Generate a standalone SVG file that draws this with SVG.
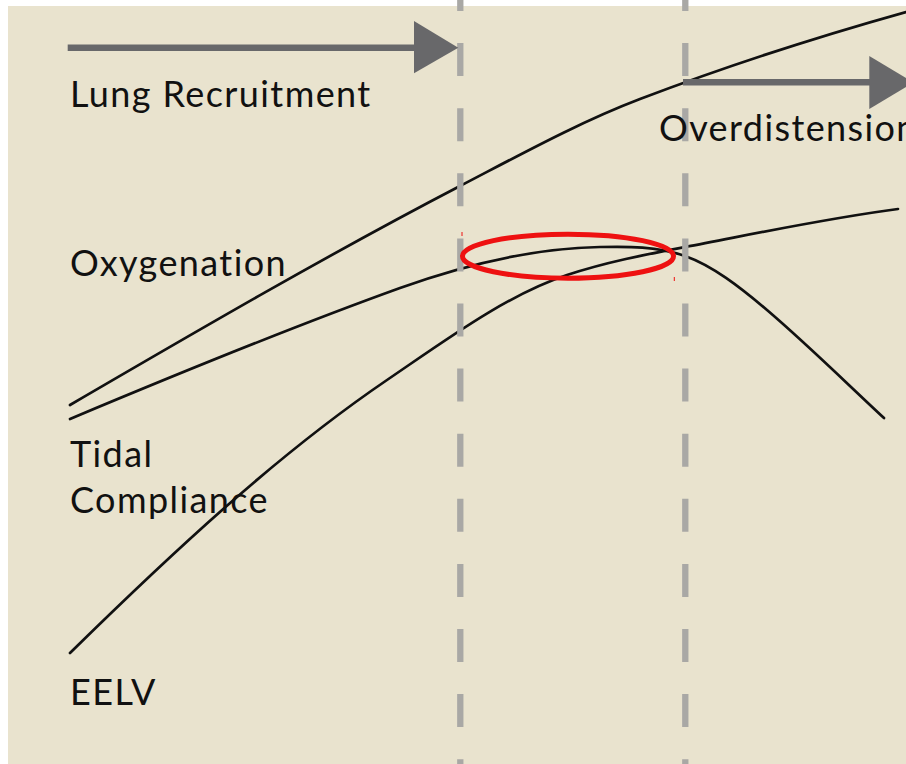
<svg xmlns="http://www.w3.org/2000/svg" width="906" height="764" viewBox="0 0 906 764">
  <style>
    .lbl { font-family: Lato, "Open Sans", "Liberation Sans", sans-serif; font-size: 36px; letter-spacing: 1.4px; fill: #111111; }
    .curve { fill: none; stroke: #111111; stroke-width: 2.7; stroke-linecap: round; }
    .dash { stroke: #A9A8A5; stroke-width: 6.3; stroke-dasharray: 33 32.1; }
    .shaft { stroke: #68686A; stroke-width: 6.5; }
    .head { fill: #68686A; }
  </style>
  <rect x="0" y="0" width="906" height="764" fill="#FFFFFF"/>
  <rect id="background" x="8" y="6" width="898" height="758" fill="#E9E3CE"/>

  <g id="curves">
    <path id="curve-top" class="curve" d="M70,405 C200,329.2 330,253.6 460,186 C520,154.8 580,121.8 640,99 C728.7,65.3 817.3,36.8 906,12"/>
    <path id="curve-peak" class="curve" d="M70,419 C180,372.8 290,327.6 400,288 C466.7,264 533.3,248.3 600,247 C628.3,246.4 656.7,246.1 685,256 C712.3,265.6 739.7,286.8 767,310 C806,343.2 845,381.7 884,418"/>
    <path id="curve-eelv" class="curve" d="M70,653 C180,545 281.3,451.9 387,380 C447,339.2 507,294.8 567,275 C606.3,262 645.7,254.5 685,247 C756,233.5 827,218.2 898,209"/>
  </g>

  <g id="dividers">
    <line id="divider-left" class="dash" x1="460.3" y1="-22" x2="460.3" y2="764"/>
    <line id="divider-right" class="dash" x1="685.3" y1="-22" x2="685.3" y2="764"/>
  </g>

  <g id="highlight">
    <ellipse cx="568" cy="256.2" rx="105.5" ry="22" fill="none" stroke="#EE1111" stroke-width="5"/>
    <line x1="462" y1="232" x2="462" y2="236" stroke="#EE1111" stroke-width="1"/>
    <line x1="674.3" y1="277" x2="674.3" y2="281" stroke="#EE1111" stroke-width="1"/>
  </g>

  <g id="arrow-recruitment">
    <line class="shaft" x1="67.7" y1="47.7" x2="416" y2="47.7"/>
    <polygon class="head" points="414,21 458.3,47.7 414,73.3"/>
  </g>
  <g id="arrow-overdistension">
    <line class="shaft" x1="683" y1="82.2" x2="871" y2="82.2"/>
    <polygon class="head" points="869.3,56 913.6,82.5 869.3,109"/>
  </g>

  <g id="label-lung-recruitment"><text class="lbl" x="70" y="107">Lung Recruitment</text></g>
  <g id="label-overdistension"><text class="lbl" x="659" y="141">Overdistension</text></g>
  <g id="label-oxygenation"><text class="lbl" x="70" y="276">Oxygenation</text></g>
  <g id="label-tidal-compliance"><text class="lbl" x="70" y="467">Tidal</text><text class="lbl" x="70" y="513">Compliance</text></g>
  <g id="label-eelv"><text class="lbl" x="70" y="705">EELV</text></g>
</svg>
